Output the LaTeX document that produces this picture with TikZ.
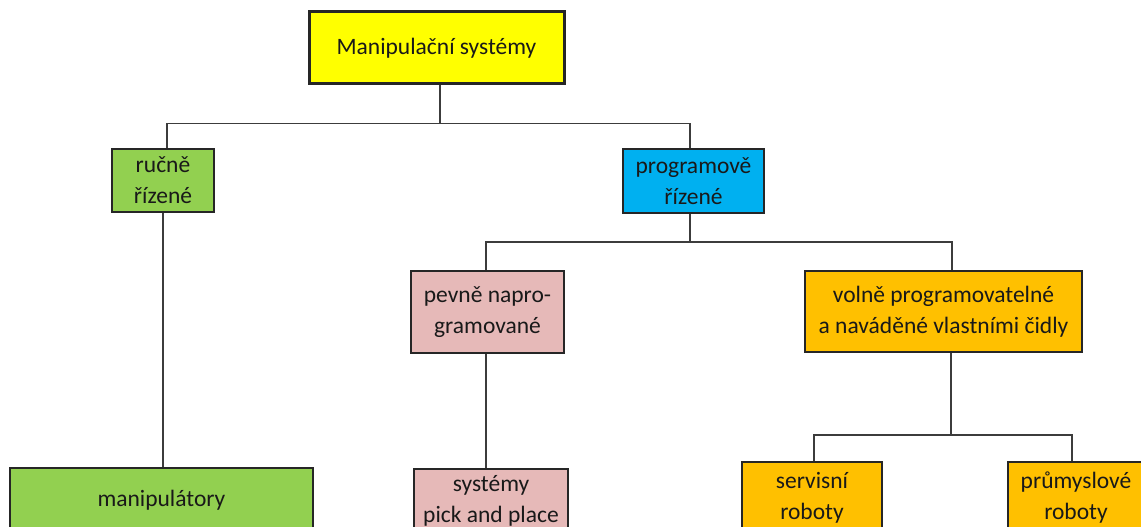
\documentclass[tikz,border=0pt]{standalone}
\usepackage{fontspec}
\setmainfont{Carlito}
\newcommand\boxfont{\fontsize{23.5}{31}\selectfont}
\definecolor{cyellow}{HTML}{FFFF00}
\definecolor{cgreen}{HTML}{92D050}
\definecolor{cblue}{HTML}{00B0F0}
\definecolor{cpink}{HTML}{E6B9B8}
\definecolor{corange}{HTML}{FFC000}
\definecolor{cline}{HTML}{262626}
\begin{document}
\begin{tikzpicture}[x=1pt,y=-1pt,
  box/.style={draw=cline, line width=1.6pt, inner sep=0pt, align=center, font=\boxfont, text=black!90},
  conn/.style={draw=cline!90, line width=1.4pt}]
\fill[white] (0,0) rectangle (1141,527);
\clip (0,0) rectangle (1141,527);
\node[box, fill=cyellow, line width=3pt, minimum width=255pt, minimum height=72pt] (top) at (436.5,48) {Manipulační systémy};
\node[box, fill=cgreen, minimum width=102pt, minimum height=63pt] (ruc) at (163,180.5) {ručně\\řízené};
\node[box, fill=cblue, minimum width=141pt, minimum height=64pt] (prog) at (693.5,181) {programově\\řízené};
\node[box, fill=cpink, minimum width=153pt, minimum height=82pt] (pevne) at (487.5,312) {pevně napro-\\gramované};
\node[box, fill=corange, minimum width=277pt, minimum height=81pt] (volne) at (943.5,311.5) {volně programovatelné\\a naváděné vlastními čidly};
\node[box, fill=cgreen, minimum width=303pt, minimum height=64pt] (manip) at (161.5,500) {manipulátory};
\node[box, fill=cpink, minimum width=154pt, minimum height=63pt] (pick) at (491,500.5) {systémy\\pick and place};
\node[box, fill=corange, minimum width=140pt, minimum height=72pt] (serv) at (812,498) {servisní\\roboty};
\node[box, fill=corange, minimum width=136pt, minimum height=72pt] (prum) at (1076,498) {průmyslové\\roboty};

\draw[conn] ([xshift=3.5pt]top.south) -- ++(0,38) coordinate (b1);
\draw[conn] ([xshift=4pt]ruc.north) |- (b1) -| ([xshift=-3.5pt]prog.north);
\draw[conn] (ruc.south) -- (ruc.south |- manip.north);
\draw[conn] ([xshift=-3.5pt]prog.south) -- ++(0,28) coordinate (b2);
\draw[conn] ([xshift=-1.5pt]pevne.north) |- (b2) -| ([xshift=8.5pt]volne.north);
\draw[conn] ([xshift=-1.5pt]pevne.south) -- ([xshift=-1.5pt]pevne.south |- pick.north);
\draw[conn] ([xshift=7.5pt]volne.south) -- ++(0,82) coordinate (b3);
\draw[conn] ([xshift=2pt]serv.north) |- (b3) -| ([xshift=-4pt]prum.north);
\end{tikzpicture}
\end{document}
